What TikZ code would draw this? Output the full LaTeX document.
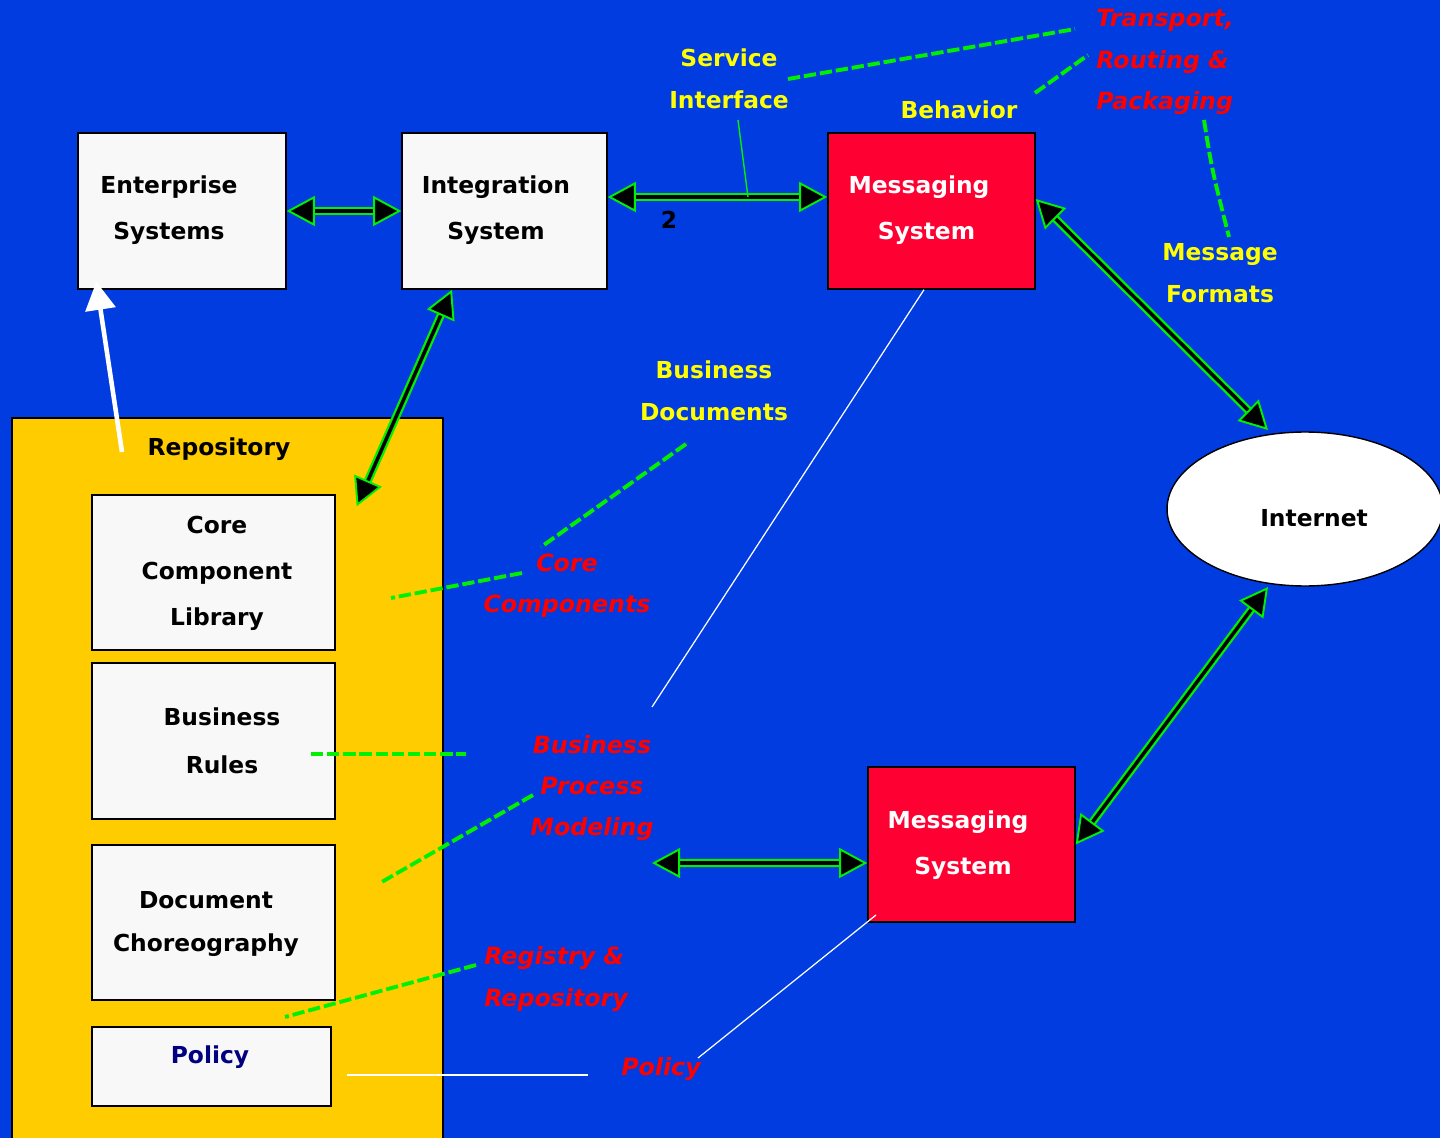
\documentclass[tikz,border=0pt]{standalone}
\usepackage{fontspec}
\setmainfont{DejaVu Sans}
\usetikzlibrary{arrows.meta,shapes.geometric}

\definecolor{bgblue}{RGB}{0,60,224}
\definecolor{msgred}{RGB}{255,0,51}
\definecolor{repoyellow}{RGB}{255,204,0}
\definecolor{boxgray}{RGB}{248,248,248}
\definecolor{lblyellow}{RGB}{255,255,0}
\definecolor{lblred}{RGB}{255,0,0}
\definecolor{linkgreen}{RGB}{0,240,0}
\definecolor{policynavy}{RGB}{0,0,128}

\tikzset{
  box/.style={draw=black, line width=0.8pt, fill=boxgray, inner sep=0pt},
  msgbox/.style={box, fill=msgred},
  boxtxt/.style={align=center, inner sep=0pt, font=\fontsize{13.3}{26.2}\selectfont\bfseries},
  yellbl/.style={align=center, inner sep=0pt, text=lblyellow, font=\fontsize{13.3}{23.9}\selectfont\bfseries},
  redlbl/.style={align=center, inner sep=0pt, text=lblred, font=\fontsize{13.5}{23.4}\selectfont\bfseries\itshape},
  link/.style={draw=black, line width=2pt, {Triangle[length=16pt, width=17pt, fill=black, color=linkgreen, line width=1.1pt]}-{Triangle[length=16pt, width=17pt, fill=black, color=linkgreen, line width=1.1pt]},
    preaction={draw=linkgreen, line width=4.6pt, -, shorten <=12pt, shorten >=12pt}},
  note/.style={draw=linkgreen, line width=2.2pt, dash pattern=on 7pt off 2.2pt},
  thin/.style={draw=white, line width=0.7pt}
}

\begin{document}
\begin{tikzpicture}[x=0.02cm, y=-0.02cm]
  \useasboundingbox (0,0) rectangle (1440,1138);
  \fill[bgblue] (0,0) rectangle (1440,1138);

  % repository area
  \node[draw=black, line width=0.8pt, fill=repoyellow, minimum width=8.62cm, minimum height=14.64cm] (repo) at (227.5,784) {};
  \node[boxtxt] (repoT) at (219,449) {Repository};

  % boxes
  \node[box, minimum width=4.16cm, minimum height=3.12cm] (ent) at (182,211) {};
  \node[boxtxt] (entT) at (169,210) {Enterprise\\Systems};
  \node[box, minimum width=4.1cm, minimum height=3.12cm] (intg) at (504.5,211) {};
  \node[boxtxt] (intgT) at (496,210) {Integration\\System};
  \node[msgbox, minimum width=4.14cm, minimum height=3.12cm] (msgA) at (931.5,211) {};
  \node[boxtxt, text=white] (msgAT) at (919,210) {Messaging\\\hspace*{0.3cm}System};
  \node[msgbox, minimum width=4.14cm, minimum height=3.1cm] (msgB) at (971.5,844.5) {};
  \node[boxtxt, text=white] (msgBT) at (958,845) {Messaging\\\hspace*{0.2cm}System};
  \node[draw=black, line width=0.8pt, fill=white, ellipse, minimum width=5.52cm, minimum height=3.08cm] (inet) at (1305,509) {};
  \node[boxtxt] (inetT) at (1314,518) {Internet};

  \node[box, minimum width=4.86cm, minimum height=3.1cm] (ccl) at (213.5,572.5) {};
  \node[boxtxt] (cclT) at (217,573) {Core\\Component\\Library};
  \node[box, minimum width=4.86cm, minimum height=3.12cm] (rules) at (213.5,741) {};
  \node[boxtxt, font=\fontsize{13.3}{27.3}\selectfont\bfseries] (rulesT) at (222,741) {Business\\Rules};
  \node[box, minimum width=4.86cm, minimum height=3.1cm] (chor) at (213.5,922.5) {};
  \node[boxtxt, font=\fontsize{13.3}{24.5}\selectfont\bfseries] (chorT) at (206,924) {Document\\Choreography};
  \node[box, minimum width=4.78cm, minimum height=1.58cm] (pol) at (211.5,1066.5) {};
  \node[boxtxt, text=policynavy] (polT) at (210,1057) {Policy};

  % labels
  \node[yellbl] (svcL) at (729,79) {Service\\Interface};
  \node[yellbl] (behL) at (959,110) {Behavior};
  \node[redlbl, align=left, anchor=west] (trnL) at (1096,62) {Transport,\\Routing \&\\Packaging};
  \node[yellbl] (fmtL) at (1220,273) {Message\\Formats};
  \node[yellbl] (docL) at (714,391) {Business\\Documents};
  \node[redlbl] (ccL) at (567,586) {Core\\Components};
  \node[redlbl] (bpmL) at (592,788) {Business\\Process\\Modeling};
  \node[redlbl, align=left, anchor=west] (regL) at (484,979) {Registry \&\\Repository};
  \node[redlbl] (polL) at (661,1069) {Policy};
  \node[font=\fontsize{13.3}{16}\selectfont\bfseries, inner sep=0pt] (two) at (669,220) {2};

  % connectors
  \draw[link] (ent.east) -- (intg.west);
  \draw[link] ([yshift=0.28cm]intg.east) -- ([yshift=0.28cm]msgA.west);
  \draw[link] ([xshift=-1.05cm]intg.south) -- ([shift={(0.42cm,-0.24cm)}]ccl.north east);
  \draw[link] ([yshift=0.24cm]msgA.east) -- ([shift={(-0.74cm,1.58cm)}]inet.center);
  \draw[link] ([shift={(-0.74cm,-1.56cm)}]inet.center) -- (msgB.east);
  \coordinate (bpmEnd) at (652,863);
  \draw[link] (bpmEnd) -- ([yshift=-0.37cm]msgB.west);

  % white arrow from repository
  \coordinate (repoFoot) at (122,452);
  \draw[white, line width=2.6pt, -{Triangle[length=16pt, width=17pt]}] (repoFoot) -- ([shift={(0.38cm,0.16cm)}]ent.south west);

  % thin lines
  \draw[linkgreen, line width=0.8pt] (738,120) -- (748,197);
  \draw[thin] ([xshift=-0.15cm]msgA.south) -- (652,707);
  \draw[thin] (876,915) -- (698,1058);
  \draw[thin] (347,1075) -- (588,1075);

  % dashed notes
  \draw[note] (788,79) -- (1075,29);
  \draw[note] (1035,93) -- (1088,55);
  \draw[note] (1204,120) .. controls (1212,170) .. (1229,237);
  \draw[note] (686,444) -- (541,547);
  \draw[note] (522,573) -- (391,598);
  \draw[note] (311,754) -- (466,754);
  \draw[note] (533,795) -- (380,883);
  \draw[note] (476,965) -- (285,1017);
\end{tikzpicture}
\end{document}
